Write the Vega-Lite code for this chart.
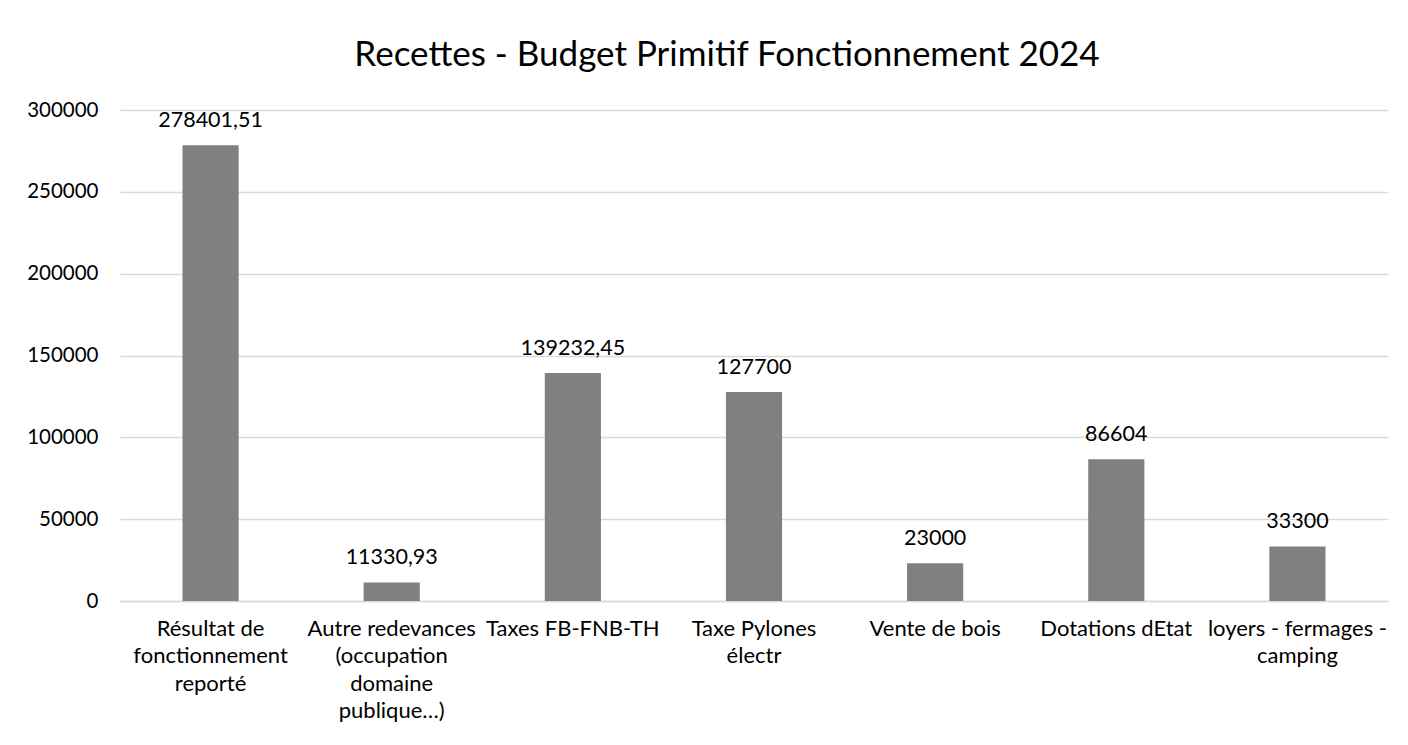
{
  "$schema": "https://vega.github.io/schema/vega-lite/v6.json",
  "autosize": {"type": "none"},
  "width": 1268,
  "height": 491,
  "padding": {"left": 120, "top": 110, "right": 20, "bottom": 144},
  "background": "white",
  "config": {
    "locale": {"number": {"decimal": ",", "thousands": "", "grouping": [3], "currency": ["", " €"]}},
    "font": "Lato",
    "view": {"stroke": null}
  },
  "title": {
    "text": "Recettes - Budget Primitif Fonctionnement 2024",
    "font": "Lato",
    "fontSize": 35,
    "fontWeight": "normal",
    "color": "#000000",
    "anchor": "middle",
    "baseline": "alphabetic",
    "offset": -1,
    "dx": -27
  },
  "data": {
    "values": [
      {"categorie": "Résultat de fonctionnement reporté", "montant": 278401.51},
      {"categorie": "Autre redevances (occupation domaine publique…)", "montant": 11330.93},
      {"categorie": "Taxes FB-FNB-TH", "montant": 139232.45},
      {"categorie": "Taxe Pylones électr", "montant": 127700},
      {"categorie": "Vente de bois", "montant": 23000},
      {"categorie": "Dotations dEtat", "montant": 86604},
      {"categorie": "loyers - fermages - camping", "montant": 33300}
    ]
  },
  "encoding": {
    "x": {
      "field": "categorie",
      "type": "nominal",
      "sort": null,
      "scale": {"paddingInner": 0.69, "paddingOuter": 0.345},
      "axis": {
        "title": null,
        "labelAngle": 0,
        "labelFont": "Lato",
        "labelFontSize": 22,
        "labelColor": "#000000",
        "labelLineHeight": 27.5,
        "labelPadding": 17,
        "labelLimit": 300,
        "ticks": false,
        "domainColor": "#d9d9d9",
        "domainWidth": 1.5,
        "labelExpr": "datum.value == 'Résultat de fonctionnement reporté' ? ['Résultat de', 'fonctionnement', 'reporté'] : datum.value == 'Autre redevances (occupation domaine publique…)' ? ['Autre redevances', '(occupation', 'domaine', 'publique…)'] : datum.value == 'Taxe Pylones électr' ? ['Taxe Pylones', 'électr'] : datum.value == 'loyers - fermages - camping' ? ['loyers - fermages -', 'camping'] : datum.value"
      }
    },
    "y": {
      "field": "montant",
      "type": "quantitative",
      "scale": {"domain": [0, 300000], "nice": false},
      "axis": {
        "title": null,
        "values": [0, 50000, 100000, 150000, 200000, 250000, 300000],
        "format": "d",
        "labelFont": "Lato",
        "labelFontSize": 20.5,
        "labelColor": "#000000",
        "labelPadding": 22,
        "ticks": false,
        "domain": false,
        "gridColor": "#d9d9d9",
        "gridWidth": 1.5
      }
    }
  },
  "layer": [
    {"mark": {"type": "bar", "color": "#808080"}},
    {
      "mark": {"type": "text", "font": "Lato", "fontSize": 21.5, "color": "#000000", "baseline": "alphabetic", "dy": -18},
      "encoding": {"text": {"field": "montant", "type": "quantitative", "format": ".2~f"}}
    }
  ]
}
